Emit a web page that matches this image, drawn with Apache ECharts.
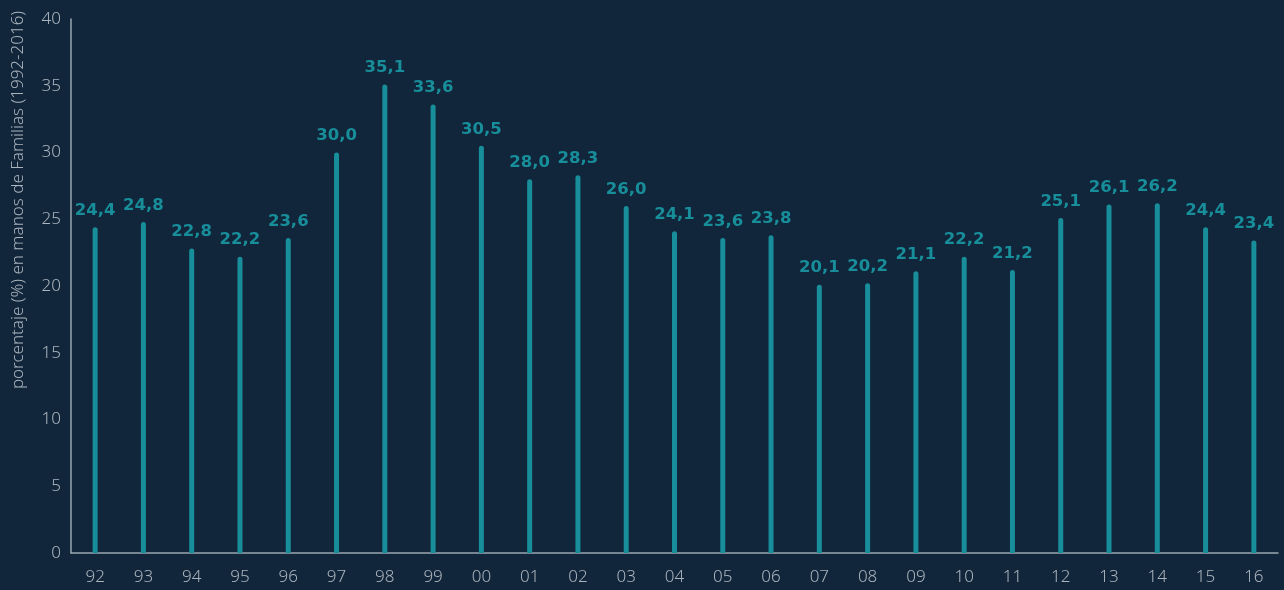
<!DOCTYPE html>
<html><head><meta charset="utf-8">
<script src="https://cdn.jsdelivr.net/npm/echarts@6/dist/echarts.min.js"></script>
<style>html,body{margin:0;padding:0;background:#12263b;}#c{width:1284px;height:590px;}</style>
</head><body><div id="c"></div>
<script>
const categories = ['92','93','94','95','96','97','98','99','00','01','02','03','04','05','06','07','08','09','10','11','12','13','14','15','16'];
const values = [24.4,24.8,22.8,22.2,23.6,30.0,35.1,33.6,30.5,28.0,28.3,26.0,24.1,23.6,23.8,20.1,20.2,21.1,22.2,21.2,25.1,26.1,26.2,24.4,23.4];
const yTicks = {min:0, max:40, interval:5};
const yName = 'porcentaje (%) en manos de Familias (1992-2016)';

const chart = echarts.init(document.getElementById('c'));
chart.setOption({
  backgroundColor:'#12263b',
  animation:false,
  grid:{left:71,right:6,top:19,bottom:37},
  xAxis:{type:'category',data:categories,
    axisLine:{lineStyle:{color:'#9aa5b0',width:1.5}},
    axisTick:{show:false},
    axisLabel:{color:'#aab4bd',fontSize:17,margin:16,fontFamily:'Noto Sans',fontWeight:300}},
  yAxis:{type:'value',min:yTicks.min,max:yTicks.max,interval:yTicks.interval,
    axisLine:{show:true,lineStyle:{color:'#9aa5b0',width:1.5}},
    axisTick:{show:false},splitLine:{show:false},
    axisLabel:{color:'#aab4bd',fontSize:17,margin:10,fontFamily:'Noto Sans',fontWeight:300}},
  graphic:[{type:'text',x:18,y:200,rotation:Math.PI/2,
    style:{text:yName,fill:'#aab4bd',fontSize:17,fontFamily:'Noto Sans',fontWeight:300,align:'center',verticalAlign:'middle'}}],
  series:[{type:'bar',data:values,barWidth:5,
    itemStyle:{color:'#178e9a',borderRadius:[3,3,0,0]},
    label:{show:true,position:'top',distance:8,color:'#178e9a',fontSize:16.5,fontWeight:'bold',fontFamily:'DejaVu Sans',
      formatter:p=>p.value.toFixed(1).replace('.',',')}}]
});
</script></body></html>
